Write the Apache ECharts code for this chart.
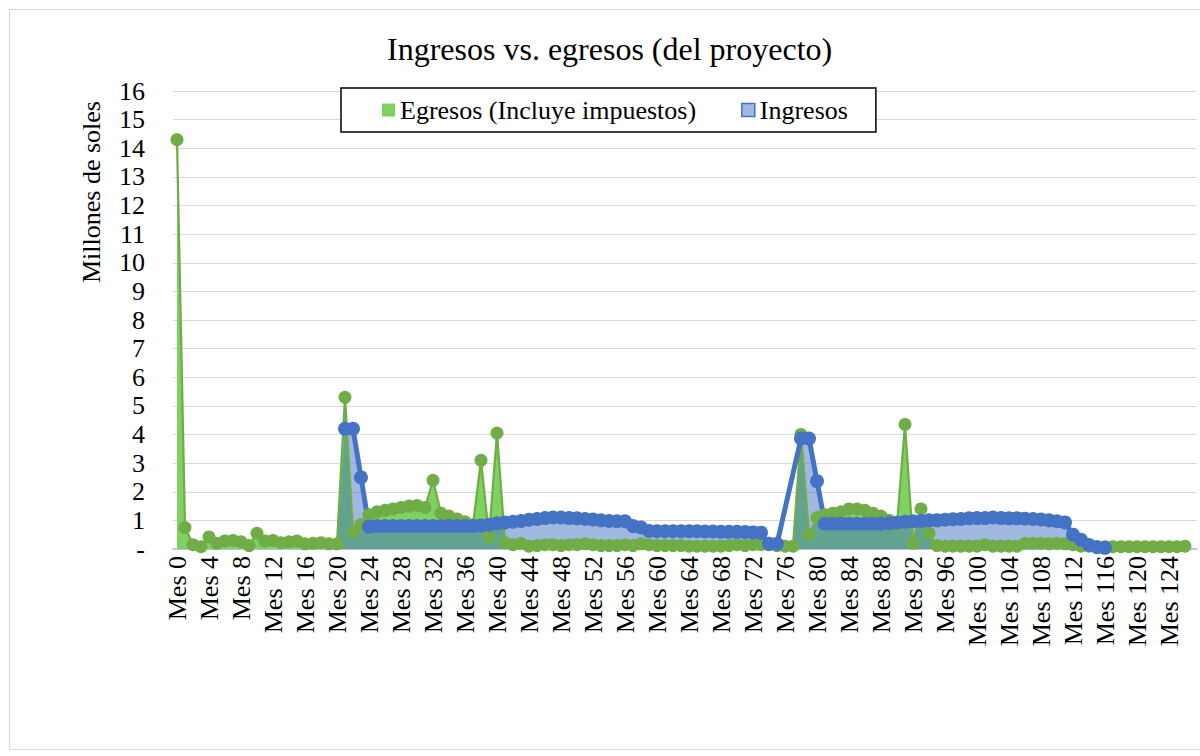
<!DOCTYPE html>
<html>
<head>
<meta charset="utf-8">
<title>Ingresos vs. egresos</title>
<script src="https://cdn.jsdelivr.net/npm/echarts@6/dist/echarts.min.js"></script>
<style>
  html, body { margin: 0; padding: 0; background: #fff; }
  #chart { width: 1200px; height: 756px; }
</style>
</head>
<body>
<div id="chart"></div>
<script>
// Millones de soles por mes
const egresos = [
  14.3, 0.75, 0.15, 0.08, 0.42, 0.2, 0.28, 0.3, 0.25, 0.12,
  0.55, 0.28, 0.3, 0.22, 0.25, 0.28, 0.18, 0.2, 0.22, 0.18,
  0.18, 5.3, 0.6, 0.85, 1.2, 1.3, 1.35, 1.4, 1.45, 1.5,
  1.52, 1.45, 2.4, 1.25, 1.15, 1.05, 0.95, 0.85, 3.1, 0.42,
  4.05, 0.22, 0.15, 0.2, 0.1, 0.12, 0.15, 0.15, 0.12, 0.15,
  0.15, 0.18, 0.15, 0.12, 0.12, 0.12, 0.15, 0.12, 0.18, 0.15,
  0.12, 0.12, 0.12, 0.12, 0.1, 0.1, 0.1, 0.1, 0.1, 0.12,
  0.15, 0.12, 0.15, 0.15, 0.15, 0.12, 0.1, 0.1, 4.0, 0.5,
  1.1, 1.2, 1.25, 1.3, 1.4, 1.4, 1.35, 1.25, 1.15, 1.0,
  0.85, 4.35, 0.2, 1.4, 0.55, 0.12, 0.1, 0.1, 0.1, 0.1,
  0.1, 0.15, 0.1, 0.1, 0.1, 0.1, 0.2, 0.2, 0.2, 0.18,
  0.2, 0.18, 0.15, 0.1, 0.1, 0.08, 0.08, 0.08, 0.08, 0.08,
  0.08, 0.08, 0.08, 0.08, 0.08, 0.08, 0.1
]
const ingresos = [
  null, null, null, null, null, null, null, null, null, null,
  null, null, null, null, null, null, null, null, null, null,
  null, 4.2, 4.2, 2.5, 0.78, 0.8, 0.8, 0.8, 0.8, 0.8,
  0.8, 0.8, 0.8, 0.8, 0.8, 0.8, 0.8, 0.8, 0.82, 0.85,
  0.9, 0.93, 0.95, 0.98, 1.02, 1.05, 1.08, 1.1, 1.1, 1.08,
  1.07, 1.05, 1.03, 1.0, 0.98, 0.97, 0.97, 0.8, 0.75, 0.63,
  0.62, 0.62, 0.62, 0.62, 0.62, 0.62, 0.61, 0.61, 0.6, 0.6,
  0.6, 0.59, 0.58, 0.57, 0.18, 0.18, null, null, 3.86, 3.86,
  2.37, 0.88, 0.88, 0.88, 0.88, 0.88, 0.88, 0.88, 0.88, 0.9,
  0.92, 0.95, 0.97, 0.98, 1.0, 1.0, 1.02, 1.04, 1.05, 1.07,
  1.08, 1.08, 1.1, 1.08, 1.07, 1.07, 1.06, 1.05, 1.03, 1.0,
  0.97, 0.93, 0.5, 0.32, 0.14, 0.06, 0.04
]
const numMeses = 128
const meses = []
for (let i = 0; i < numMeses; i++) {
  meses.push('Mes ' + i)
}

const serif = '"Liberation Serif", "Times New Roman", serif'
const verde = '#70AD47'
const verdeArea = '#7FD260'
const azul = '#4472C4'
const azulArea = 'rgba(68,114,196,0.5)'

// el área azul baja a cero donde no hay dato (como en Excel)
const ingresosArea = ingresos.map(v => v === null ? 0 : v)

const chart = echarts.init(document.getElementById('chart'), null, { renderer: 'svg' })
chart.setOption({
  animation: false,
  backgroundColor: '#fff',
  textStyle: { fontFamily: serif },
  title: {
    text: 'Ingresos vs. egresos (del proyecto)',
    left: 387,
    top: 33,
    padding: 0,
    textStyle: { fontFamily: serif, fontSize: 32, fontWeight: 'normal', color: '#000' }
  },
  legend: {
    left: 341,
    top: 88,
    padding: [9, 28, 9, 41],
    itemGap: 45,
    itemWidth: 13,
    itemHeight: 13,
    borderColor: '#000',
    borderWidth: 1.5,
    backgroundColor: '#fff',
    textStyle: { fontFamily: serif, fontSize: 26, color: '#000' },
    data: [
      { name: 'Egresos (Incluye impuestos)', icon: 'rect', itemStyle: { color: verdeArea, borderWidth: 0 } },
      { name: 'Ingresos', icon: 'rect', itemStyle: { color: azulArea, borderColor: azul, borderWidth: 1.5 } }
    ]
  },
  grid: { left: 173, right: 3, top: 91, bottom: 207 },
  graphic: [
    {
      type: 'rect',
      shape: { x: 9.5, y: 9.5, width: 1200, height: 740 },
      style: { fill: 'none', stroke: '#D9D9D9', lineWidth: 1 },
      silent: true
    },
    {
      type: 'text',
      x: 91,
      y: 192,
      rotation: Math.PI / 2,
      style: {
        text: 'Millones de soles',
        font: '26px ' + serif,
        fill: '#000',
        textAlign: 'center',
        textVerticalAlign: 'middle'
      }
    }
  ],
  xAxis: {
    type: 'category',
    data: meses,
    boundaryGap: true,
    axisTick: { show: false },
    axisLine: { lineStyle: { color: '#A9BDE3', width: 1.5 } },
    axisLabel: { rotate: 90, interval: 3, margin: 7, fontSize: 26, color: '#000', fontFamily: serif }
  },
  yAxis: {
    type: 'value',
    min: 0,
    max: 16,
    interval: 1,
    axisLine: { show: false },
    axisTick: { show: false },
    splitLine: { lineStyle: { color: '#D9D9D9', width: 1 } },
    axisLabel: {
      margin: 28,
      fontSize: 26,
      color: '#000',
      fontFamily: serif,
      formatter: v => v === 0 ? '-' : v
    }
  },
  series: [
    {
      name: 'Egresos (Incluye impuestos)',
      type: 'line',
      data: egresos,
      showSymbol: false,
      symbol: 'none',
      lineStyle: { width: 0 },
      itemStyle: { color: verdeArea },
      areaStyle: { color: verdeArea, opacity: 1 }
    },
    {
      name: 'Ingresos',
      type: 'line',
      data: ingresosArea,
      showSymbol: false,
      symbol: 'none',
      lineStyle: { width: 0 },
      itemStyle: { color: azulArea },
      areaStyle: { color: azulArea, opacity: 1 }
    },
    {
      name: 'Egresos línea',
      type: 'line',
      data: egresos,
      symbol: 'circle',
      symbolSize: 13,
      showAllSymbol: true,
      lineStyle: { color: verde, width: 2.25 },
      itemStyle: { color: verde }
    },
    {
      name: 'Ingresos línea',
      type: 'line',
      data: ingresos,
      connectNulls: true,
      symbol: 'circle',
      symbolSize: 14,
      showAllSymbol: true,
      lineStyle: { color: azul, width: 5 },
      itemStyle: { color: azul }
    }
  ]
})
</script>
</body>
</html>
